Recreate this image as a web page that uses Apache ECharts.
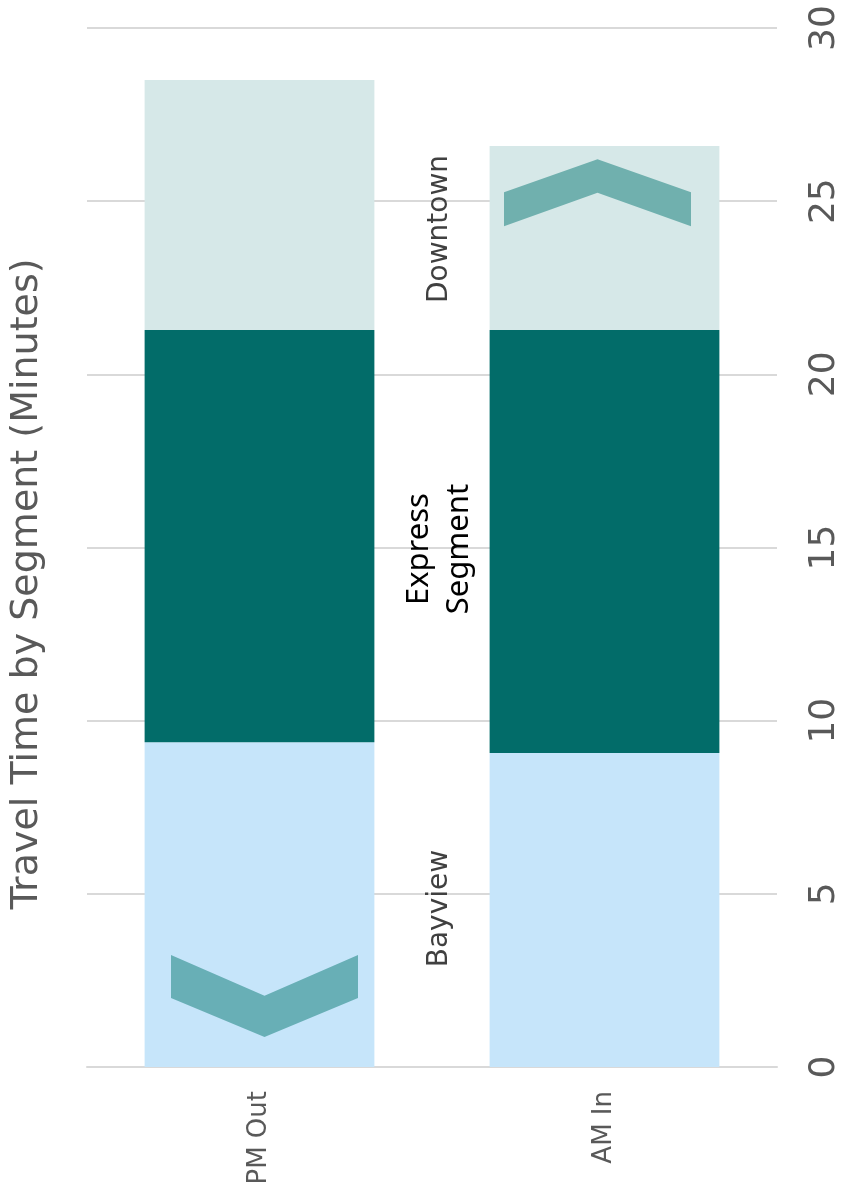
<!DOCTYPE html>
<html>
<head>
<meta charset="utf-8">
<script src="https://cdn.jsdelivr.net/npm/echarts@6/dist/echarts.min.js"></script>
<style>
  html, body { margin: 0; padding: 0; background: #ffffff; }
  #chart { width: 843px; height: 1201px; }
</style>
</head>
<body>
<div id="chart"></div>
<script>
// Travel time per corridor segment, in minutes
const categories = ['PM Out', 'AM In'];
const bayview = [9.38, 9.07];
const express = [11.9, 12.21];
const downtown = [7.22, 5.31];
// Direction arrows: value (minutes) where each arrow sits on its bar
const arrowValues = [2.05, 25.24];
const valueMin = 0;
const valueMax = 30;
const valueStep = 5;

const FONT = '"DejaVu Sans", sans-serif';
const GRAY = '#595959';

const chart = echarts.init(document.getElementById('chart'), null, { renderer: 'canvas' });

// Segment name written in the gap between the two bars, upright along the bar.
// Labels are rotated a quarter turn, so offset[0] negative moves them down the page.
function segLabel(text, color, family, size, offset) {
  return {
    show: true,
    position: 'right',
    distance: 65,
    rotate: 90,
    align: 'center',
    verticalAlign: 'middle',
    offset: offset,
    formatter: text,
    color: color,
    fontFamily: family,
    fontSize: size,
    lineHeight: 40
  };
}

const DOWN_ARROW = 'path://M0,0 L50,49.6 L100,0 L100,52.4 L50,100 L0,52.4 Z';
const UP_ARROW = 'path://M50,0 L100,49 L100,100 L50,50 L0,100 L0,49 Z';

chart.setOption({
  animation: false,
  backgroundColor: '#ffffff',
  grid: { left: 87, right: 65, top: 28, bottom: 134, containLabel: false },
  xAxis: {
    type: 'category',
    data: categories,
    axisLine: { show: true, lineStyle: { color: '#d9d9d9', width: 2 } },
    axisTick: { show: false },
    axisLabel: {
      rotate: 90,
      margin: 24,
      color: GRAY,
      fontFamily: FONT,
      fontSize: 26
    }
  },
  yAxis: {
    type: 'value',
    position: 'right',
    min: valueMin,
    max: valueMax,
    interval: valueStep,
    axisLine: { show: false },
    axisTick: { show: false },
    splitLine: { lineStyle: { color: '#d9d9d9', width: 2 } },
    axisLabel: {
      rotate: 90,
      margin: 30,
      color: GRAY,
      fontFamily: FONT,
      fontSize: 36
    }
  },
  graphic: [{
    type: 'text',
    x: 27,
    y: 584,
    rotation: Math.PI / 2,
    style: {
      text: 'Travel Time by Segment (Minutes)',
      fill: GRAY,
      font: '38px ' + FONT,
      align: 'center',
      verticalAlign: 'middle'
    }
  }],
  series: [
    {
      name: 'Bayview',
      type: 'bar',
      stack: 'time',
      barCategoryGap: '33.4%',
      itemStyle: { color: '#C6E5FA' },
      data: [
        { value: bayview[0], label: segLabel('Bayview', '#404040', FONT, 28, [-4, 0]) },
        bayview[1]
      ]
    },
    {
      name: 'Express Segment',
      type: 'bar',
      stack: 'time',
      itemStyle: { color: '#026C69' },
      data: [
        { value: express[0], label: segLabel('Express\nSegment', '#000000', '"Noto Sans", sans-serif', 31, [-13, 0]) },
        express[1]
      ]
    },
    {
      name: 'Downtown',
      type: 'bar',
      stack: 'time',
      itemStyle: { color: '#D6E8E8' },
      data: [
        { value: downtown[0], label: segLabel('Downtown', '#404040', FONT, 28, [-24, 0]) },
        downtown[1]
      ]
    },
    {
      name: 'Direction',
      type: 'scatter',
      z: 5,
      silent: true,
      data: [
        { value: [0, arrowValues[0]], symbol: DOWN_ARROW, symbolSize: [187, 82], symbolOffset: [5, 0], itemStyle: { color: '#68AFB6', opacity: 1 } },
        { value: [1, arrowValues[1]], symbol: UP_ARROW, symbolSize: [187, 67], symbolOffset: [-7, 0], itemStyle: { color: '#70B0AE', opacity: 1 } }
      ]
    }
  ]
});
</script>
</body>
</html>
